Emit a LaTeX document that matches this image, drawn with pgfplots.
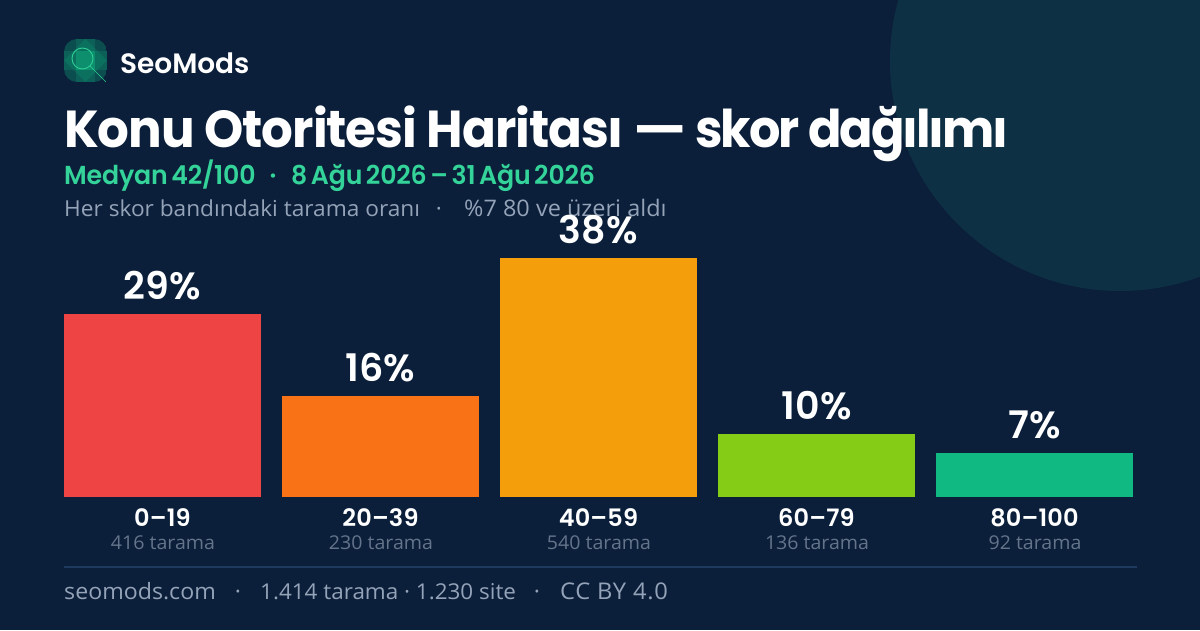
\documentclass[border=0pt]{standalone}
\usepackage{graphicx}
\usepackage{pgfplots}
\pgfplotsset{compat=1.18}
\usepackage{fontspec}
\setmainfont{Open Sans}[FakeStretch=1.03]
\newfontfamily\dispfont{Poppins}[UprightFont=*-Bold,FakeStretch=0.96,LetterSpace=-2.0]
\newfontfamily\dispfontb{Poppins}[UprightFont=*-Bold,FakeStretch=0.95,LetterSpace=-4.0]
\newfontfamily\lblfont{Poppins}[UprightFont=*-SemiBold,LetterSpace=0.6]
\newfontfamily\brandfont{Poppins}[UprightFont=*-SemiBold,LetterSpace=-0.2]
\newfontfamily\medfont{Poppins}[UprightFont=*-SemiBold,FakeStretch=0.97,LetterSpace=-0.6,WordSpace=0.6]
\definecolor{bg}{HTML}{0B1F3A}
\definecolor{circ}{HTML}{0D3044}
\definecolor{teal}{HTML}{34D399}
\definecolor{green2}{HTML}{10B981}
\definecolor{sub}{HTML}{94A3B8}
\definecolor{muted}{HTML}{64748B}
\definecolor{rulec}{HTML}{1E3A5F}
\newcommand{\px}[1]{\fontsize{#1}{#1}\selectfont}
\begin{document}
\begin{tikzpicture}[x=1pt,y=1pt]
\path[use as bounding box] (0,0) rectangle (1200,630);
\fill[bg] (0,0) rectangle (1200,630);
\begin{scope}
\clip (0,0) rectangle (1200,630);
\fill[circ] (1120,569) circle (230);
\end{scope}
% logo
\begin{scope}
\clip[rounded corners=13pt] (64,548) rectangle (107,591);
\fill[green2,opacity=.30] (64,548) rectangle (107,591);
\fill[green2,opacity=.18] (85.5,591) -- (107,569.5) -- (85.5,548) -- (64,569.5) -- cycle;
\fill[green2,opacity=.18] (76,548) rectangle (95,591);
\fill[green2,opacity=.18] (64,560) rectangle (107,579);
\fill[green2,opacity=.30] (76,560) rectangle (95,579);
\end{scope}
\draw[teal!80!green2,line width=0.9pt] (82.5,571.5) circle (10.5);
\draw[teal!80!green2,line width=0.7pt] (90,564) -- (106,548);
\node[anchor=base west,inner sep=0,text=white] at (120,556) {\brandfont\px{28}SeoMods};
\node[anchor=base west,inner sep=0,text=white] at (64,482) {\dispfont\px{52}Konu Otoritesi Haritası};
\node[anchor=base,inner sep=0,text=white] at (660,482) {\scalebox{1.15}[1]{\dispfont\px{52}—}};
\node[anchor=base west,inner sep=0,text=white] at (695,482) {\dispfontb\px{52}skor dağılımı};
\node[anchor=base west,inner sep=0,text=teal] at (64,445) {\medfont\px{26}Medyan 42/100};
\node[anchor=base,inner sep=0,text=teal] at (273,445) {\medfont\px{26}·};
\node[anchor=base west,inner sep=0,text=teal] at (291,445) {\medfont\px{26}8 Ağu 2026 – 31 Ağu 2026};
\node[anchor=base west,inner sep=0,text=sub] at (64,413.5) {\px{22}Her skor bandındaki tarama oranı};
\node[anchor=base,inner sep=0,text=sub] at (439,413.5) {\px{22}·};
\node[anchor=base west,inner sep=0,text=sub] at (464,413.5) {\px{22.8}\%7 80 ve üzeri aldı};
\begin{axis}[
  at={(53.5pt,133pt)},anchor=south west,scale only axis,
  width=1090pt,height=300pt,
  xmin=-0.5,xmax=4.5,ymin=0,ymax=47.619,
  ybar,bar shift=0pt,bar width=197pt,
  axis line style={draw=none},tick style={draw=none},
  ytick=\empty,
  xtick={0,1,2,3,4},
  xticklabels={{0–19},{20–39},{40–59},{60–79},{80–100}},
  xticklabel style={text=white,font=\lblfont\px{24},anchor=base,yshift=-25pt},
  clip=false,
  /pgf/number format/assume math mode=true,
  nodes near coords={\pgfmathprintnumber{\pgfplotspointmeta}\%},
  nodes near coords style={text=white,font=\lblfont\px{38},anchor=base,yshift=14.5pt},
  point meta=y,
]
\addplot[fill={rgb,255:red,239;green,68;blue,68},draw=none] coordinates {(0,29)};
\addplot[fill={rgb,255:red,249;green,115;blue,22},draw=none] coordinates {(1,16)};
\addplot[fill={rgb,255:red,245;green,158;blue,11},draw=none] coordinates {(2,38)};
\addplot[fill={rgb,255:red,132;green,204;blue,22},draw=none] coordinates {(3,10)};
\addplot[fill={rgb,255:red,16;green,185;blue,129},draw=none] coordinates {(4,7)};
\end{axis}
\foreach \xx/\tt in {163/416,381/230,599/540,817/136,1035/92}
  \node[anchor=base,inner sep=0,text=muted] at (\xx,80.5) {\px{19}\tt{} tarama};
\fill[rulec] (64,62.5) rectangle (1137,64);
\node[anchor=base west,inner sep=0,text=sub] at (64,31) {\px{22.5}seomods.com};
\node[anchor=base,inner sep=0,text=sub] at (238,31) {\px{22.5}·};
\node[anchor=base west,inner sep=0,text=sub] at (260,31) {\px{21.8}1.414 tarama · 1.230 site};
\node[anchor=base,inner sep=0,text=sub] at (537,31) {\px{22.5}·};
\node[anchor=base west,inner sep=0,text=sub] at (560,31) {\addfontfeatures{LetterSpace=3}\px{23}CC BY 4.0};
\end{tikzpicture}
\end{document}
